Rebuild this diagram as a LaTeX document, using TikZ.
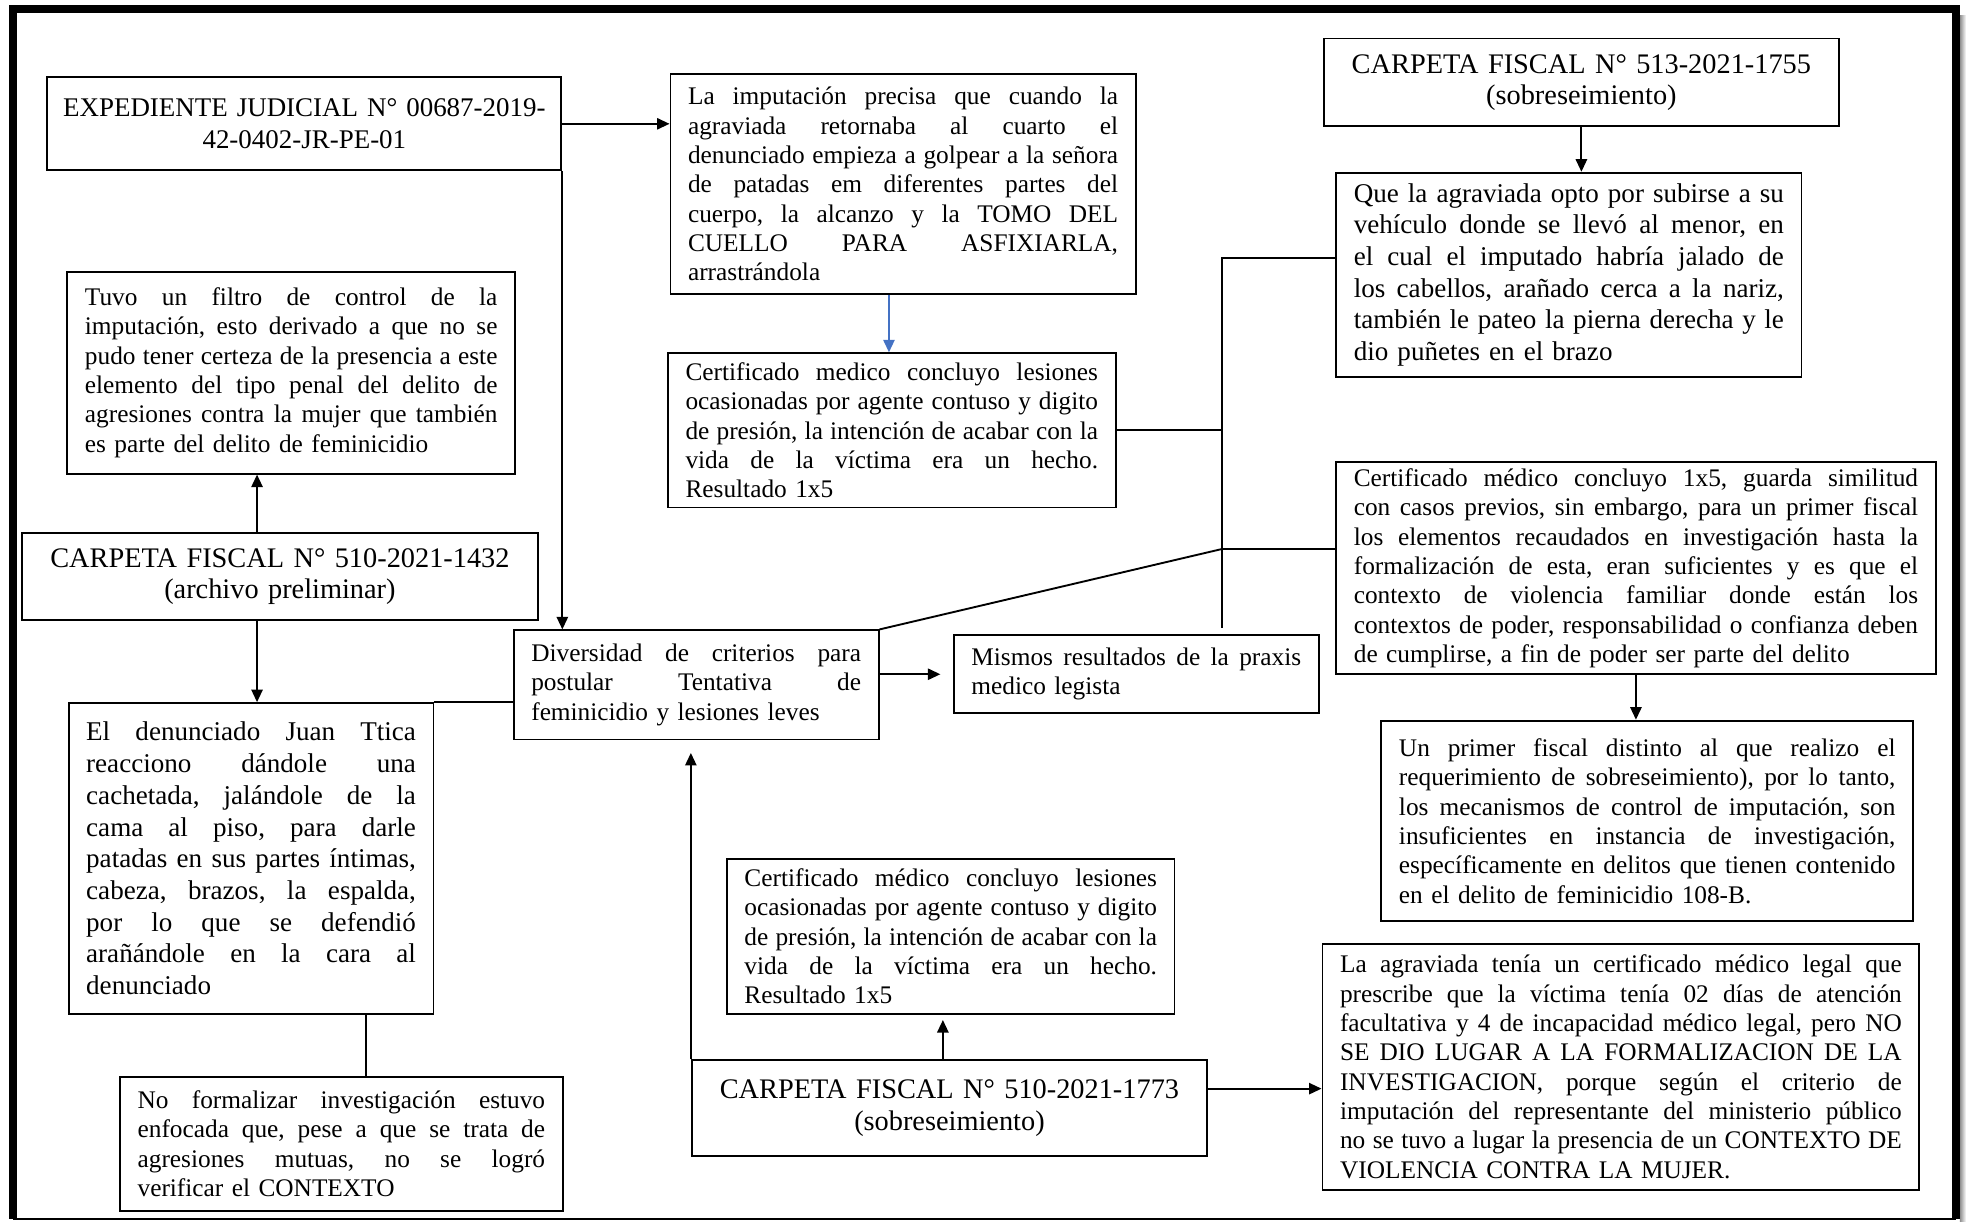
\documentclass[tikz,border=0pt]{standalone}
\usepackage{fontspec}
\setmainfont{Liberation Serif}
\usetikzlibrary{arrows.meta,calc}
\ExplSyntaxOn
\dim_new:N \l_jl_width_dim
\seq_new:N \l_jl_words_seq
\cs_new_protected:Npn \setjlw #1 { \dim_set:Nn \l_jl_width_dim {#1} }
\cs_new_protected:Npn \jl #1
  {
    \seq_set_split:Nnn \l_jl_words_seq { ~ } {#1}
    \mode_leave_vertical:
    \hbox_to_wd:nn { \l_jl_width_dim }
      { \seq_use:Nn \l_jl_words_seq { \hskip 0.25em plus 1fil minus 0.09em } }
    \\
  }
\ExplSyntaxOff
\definecolor{arrblue}{RGB}{68,114,196}
\begin{document}
\begin{tikzpicture}[x=1pt,y=-1pt,
  bx/.style={draw, line width=1.5pt, anchor=north west, inner xsep=14pt, inner ysep=0pt, align=left},
  jw/.style={text width=#1, execute at begin node={\setjlw{#1}}},
  body/.style={font=\fontsize{20.2}{23.4}\selectfont},
  bigbody/.style={font=\fontsize{21.6}{25.3}\selectfont},
  hdr/.style={font=\fontsize{22.6}{25}\selectfont, align=center},
  con/.style={line width=1.5pt},
  arr/.style={con, -{Triangle[length=10pt,width=9pt]}}]
\useasboundingbox (0,0) rectangle (1568,974);
% outer frame
\shade[left color=black!45, right color=white] (1563,12) rectangle (1568,974);
\draw[line width=6.5pt] (10.4,972) -- (10.4,7.3) -- (1560,7.3) -- (1560,972);
\draw[line width=1.5pt] (10.4,972.2) -- (1560,972.2);

% nodes
\node[bx, hdr, font=\fontsize{21.5}{25}\selectfont, inner xsep=4pt, text width=402pt, minimum height=74pt] (exp) at (37,61)
  {EXPEDIENTE JUDICIAL N° 00687-2019-\\42-0402-JR-PE-01};
\node[bx, body, jw=343pt, minimum height=176pt] (imp) at (534,58)
  {\jl{La imputación precisa que cuando la}\jl{agraviada retornaba al cuarto el}\jl{denunciado empieza a golpear a la señora}\jl{de patadas em diferentes partes del}\jl{cuerpo, la alcanzo y la TOMO DEL}\jl{CUELLO PARA ASFIXIARLA,}arrastrándola};
\node[bx, hdr, text width=383pt, minimum height=70pt] (c1755) at (1055,30)
  {CARPETA FISCAL N° 513-2021-1755\\(sobreseimiento)};
\node[bx, bigbody, jw=343pt, minimum height=163pt] (que) at (1065,137)
  {\jl{Que la agraviada opto por subirse a su}\jl{vehículo donde se llevó al menor, en}\jl{el cual el imputado habría jalado de}\jl{los cabellos, arañado cerca a la nariz,}\jl{también le pateo la pierna derecha y le}dio puñetes en el brazo};
\node[bx, body, jw=329pt, minimum height=161pt] (filtro) at (53,216)
  {\jl{Tuvo un filtro de control de la}\jl{imputación, esto derivado a que no se}\jl{pudo tener certeza de la presencia a este}\jl{elemento del tipo penal del delito de}\jl{agresiones contra la mujer que también}es parte del delito de feminicidio};
\node[bx, body, jw=329pt, minimum height=123pt] (cert1) at (532,281)
  {\jl{Certificado medico concluyo lesiones}\jl{ocasionadas por agente contuso y digito}\jl{de presión, la intención de acabar con la}\jl{vida de la víctima era un hecho.}Resultado 1x5};
\node[bx, body, jw=450pt, minimum height=169pt] (cert15) at (1065,368)
  {\jl{Certificado médico concluyo 1x5, guarda similitud}\jl{con casos previos, sin embargo, para un primer fiscal}\jl{los elementos recaudados en investigación hasta la}\jl{formalización de esta, eran suficientes y es que el}\jl{contexto de violencia familiar donde están los}\jl{contextos de poder, responsabilidad o confianza deben}de cumplirse, a fin de poder ser parte del delito};
\node[bx, hdr, text width=383pt, minimum height=70pt] (c1432) at (17,424)
  {CARPETA FISCAL N° 510-2021-1432\\(archivo preliminar)};
\node[bx, body, jw=263pt, minimum height=87pt] (div) at (409,502)
  {\jl{Diversidad de criterios para}\jl{postular Tentativa de}feminicidio y lesiones leves};
\node[bx, body, jw=263pt, minimum height=62pt] (mis) at (760,506)
  {\jl{Mismos resultados de la praxis}medico legista};
\node[bx, body, jw=396pt, minimum height=160pt] (primer) at (1101,574)
  {\jl{Un primer fiscal distinto al que realizo el}\jl{requerimiento de sobreseimiento), por lo tanto,}\jl{los mecanismos de control de imputación, son}\jl{insuficientes en instancia de investigación,}\jl{específicamente en delitos que tienen contenido}en el delito de feminicidio 108-B.};
\node[bx, bigbody, jw=263pt, minimum height=248pt] (den) at (54,560)
  {\jl{El denunciado Juan Ttica}\jl{reacciono dándole una}\jl{cachetada, jalándole de la}\jl{cama al piso, para darle}\jl{patadas en sus partes íntimas,}\jl{cabeza, brazos, la espalda,}\jl{por lo que se defendió}\jl{arañándole en la cara al}denunciado};
\node[bx, body, jw=329pt, minimum height=124pt] (cert2) at (579,684)
  {\jl{Certificado médico concluyo lesiones}\jl{ocasionadas por agente contuso y digito}\jl{de presión, la intención de acabar con la}\jl{vida de la víctima era un hecho.}Resultado 1x5};
\node[bx, hdr, text width=383pt, minimum height=76pt] (c1773) at (551,845)
  {CARPETA FISCAL N° 510-2021-1773\\(sobreseimiento)};
\node[bx, body, jw=448pt, minimum height=196pt] (agr) at (1054,752)
  {\jl{La agraviada tenía un certificado médico legal que}\jl{prescribe que la víctima tenía 02 días de atención}\jl{facultativa y 4 de incapacidad médico legal, pero NO}\jl{SE DIO LUGAR A LA FORMALIZACION DE LA}\jl{INVESTIGACION, porque según el criterio de}\jl{imputación del representante del ministerio público}\jl{no se tuvo a lugar la presencia de un CONTEXTO DE}VIOLENCIA CONTRA LA MUJER.};
\node[bx, body, jw=325pt, minimum height=107pt] (nof) at (95,858)
  {\jl{No formalizar investigación estuvo}\jl{enfocada que, pese a que se trata de}\jl{agresiones mutuas, no se logró}verificar el CONTEXTO};

% helper coordinates
\coordinate (xa) at (205,0);
\coordinate (xb) at (292,0);
\coordinate (xc) at (752,0);
\coordinate (xd) at (709,0);
\coordinate (jx) at (974.4,0);
\coordinate (qL) at ($(que.north west)!0.42!(que.south west)$);
\coordinate (gL) at ($(cert15.north west)!0.41!(cert15.south west)$);
\coordinate (nR) at ($(c1773.north east)!0.3!(c1773.south east)$);
\coordinate (jTop) at (qL -| jx);
\coordinate (jMid) at (gL -| jx);
\coordinate (jBot) at ($(div.north -| jx)+(0,-1)$);

% connectors
\draw[arr] (exp.east) -- (exp.east -| imp.west);
\draw[arr] (exp.south east) -- (exp.south east |- div.north);
\draw[con, arrblue, -{Triangle[length=10pt,width=9pt]}] (imp.south -| xd) -- (cert1.north -| xd);
\draw[arr] (c1755.south) -- (c1755.south |- que.north);
\draw[con] (qL) -- (jTop) -- (jBot);
\draw[con] (cert1.east) -- (cert1.east -| jx);
\draw[con] (gL) -- (jMid);
\draw[con] (div.north east) -- (jMid);
\draw[arr, shorten >=10pt] (div.east |- mis.west) -- (mis.west);
\draw[con] (den.north east) -- (den.north east -| div.west);
\draw[arr] (c1432.north -| xa) -- (filtro.south -| xa);
\draw[arr] (c1432.south -| xa) -- (den.north -| xa);
\draw[con] (den.south -| xb) -- (nof.north -| xb);
\draw[arr] (cert15.south) -- (cert15.south |- primer.north);
\draw[arr, shorten >=4pt] (c1773.north -| xc) -- (cert2.south -| xc);
\draw[arr, shorten >=10pt] (c1773.north west) -- (c1773.north west |- div.south);
\draw[arr] (nR) -- (nR -| agr.west);
\end{tikzpicture}
\end{document}
